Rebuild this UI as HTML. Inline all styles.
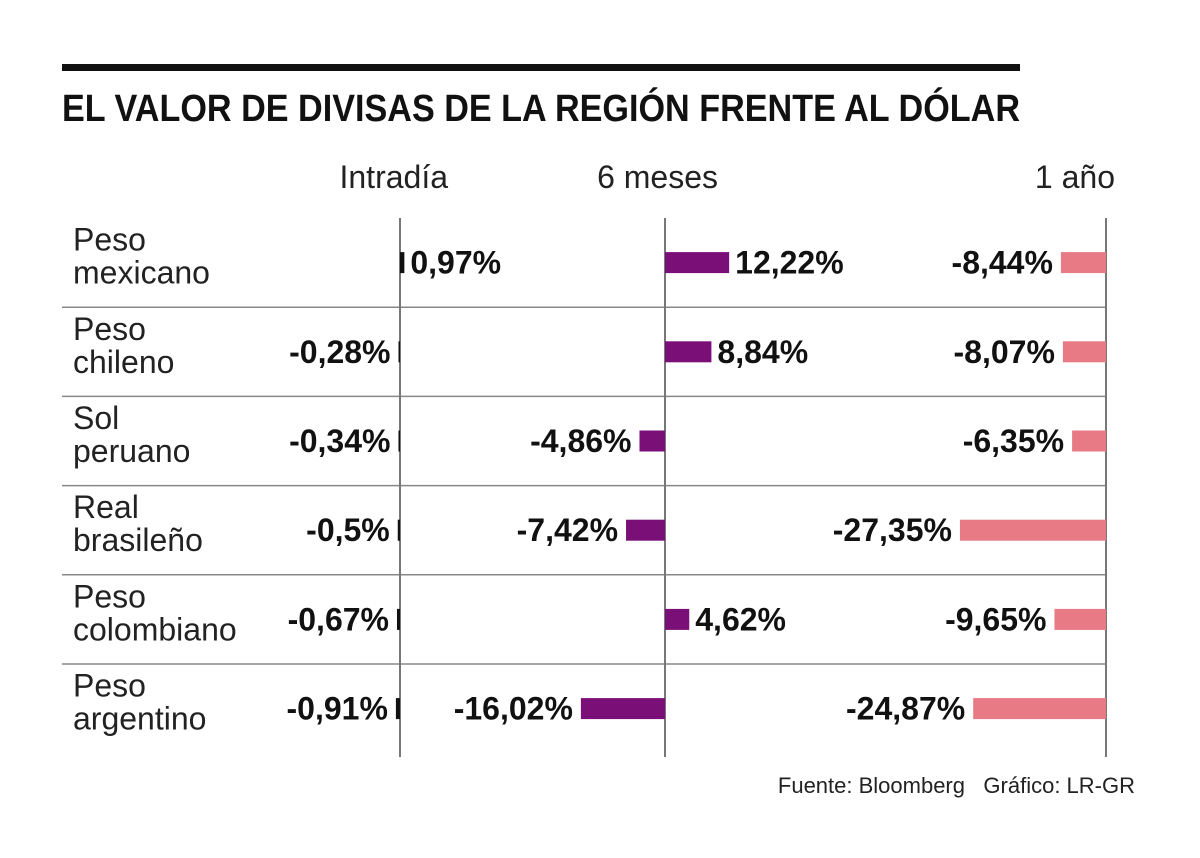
<!DOCTYPE html>
<html><head><meta charset="utf-8"><style>
body{margin:0;background:#fff}
svg{display:block;font-family:"Liberation Sans",sans-serif}
</style></head><body>
<svg id="chart" width="1200" height="858" viewBox="0 0 1200 858">
<rect x="62" y="64" width="958" height="7" fill="#111"/>
<text x="62" y="121" font-size="38" font-weight="bold" textLength="958" lengthAdjust="spacingAndGlyphs" fill="#111">EL VALOR DE DIVISAS DE LA REGIÓN FRENTE AL DÓLAR</text>
<text x="448" y="188" font-size="32" text-anchor="end" fill="#222">Intradía</text>
<text x="718" y="188" font-size="32" text-anchor="end" fill="#222">6 meses</text>
<text x="1115" y="188" font-size="32" text-anchor="end" fill="#222">1 año</text>
<g id="grid"></g>
<g id="marks"></g>
<text x="965" y="793" font-size="22" text-anchor="end" fill="#222">Fuente: Bloomberg</text>
<text x="1135" y="793" font-size="22" text-anchor="end" fill="#222">Gráfico: LR-GR</text>
</svg>
<script>
const currencies=[["Peso","mexicano"],["Peso","chileno"],["Sol","peruano"],["Real","brasileño"],["Peso","colombiano"],["Peso","argentino"]];
const intraday=[0.97,-0.28,-0.34,-0.5,-0.67,-0.91];
const sixMonths=[12.22,8.84,-4.86,-7.42,4.62,-16.02];
const oneYear=[-8.44,-8.07,-6.35,-27.35,-9.65,-24.87];
const intradayLabels=["0,97%","-0,28%","-0,34%","-0,5%","-0,67%","-0,91%"];
const sixMonthLabels=["12,22%","8,84%","-4,86%","-7,42%","4,62%","-16,02%"];
const oneYearLabels=["-8,44%","-8,07%","-6,35%","-27,35%","-9,65%","-24,87%"];

const NS="http://www.w3.org/2000/svg";
const grid=document.getElementById('grid'),marks=document.getElementById('marks');
const top0=218,rowH=89.2,bottom=757;
const rowCenter=i=>top0+rowH*(i+0.5);
function mk(tag,attrs,parent){const e=document.createElementNS(NS,tag);for(const k in attrs)e.setAttribute(k,attrs[k]);parent.appendChild(e);return e;}
for(let i=1;i<currencies.length;i++){
  const l=mk('line',{x1:62,x2:1106,y1:top0+rowH*i,y2:top0+rowH*i,stroke:'#888','stroke-width':1.5},grid);
  
  
}
const cols=[
 {vals:intraday,labels:intradayLabels,zero:400,scale:4.5,color:'#111',name:'intraday'},
 {vals:sixMonths,labels:sixMonthLabels,zero:665,scale:5.25,color:'#7a0f78',name:'six-months'},
 {vals:oneYear,labels:oneYearLabels,zero:1106,scale:5.34,color:'#e87a85',name:'one-year'}];
cols.forEach(c=>{
  const a=mk('line',{x1:c.zero,x2:c.zero,y1:top0,y2:bottom,stroke:'#777','stroke-width':2},grid);
  
  
});
currencies.forEach((n,i)=>{
  const cy=rowCenter(i);
  const t=mk('text',{x:73,y:cy-12,'font-size':32,fill:'#222'},marks);
  t.textContent=n[0];
  
  
  const t2=mk('text',{x:73,y:cy+21,'font-size':32,fill:'#222'},marks);
  t2.textContent=n[1];
  
  
  cols.forEach(c=>{
    const v=c.vals[i];
    let w=Math.max(Math.abs(v)*c.scale,1.5);
    const x=v>=0?c.zero:c.zero-w;
    const r=mk('rect',{x:x,y:cy-10.5,width:w,height:21,fill:c.color},marks);
    
    
    const lx=v>=0?c.zero+w+6:c.zero-w-8;
    const lb=mk('text',{x:lx,y:cy+11,'font-size':32,'font-weight':'bold',fill:'#111','text-anchor':v>=0?'start':'end'},marks);
    lb.textContent=c.labels[i];
    
    
  });
});
</script>
</body></html>
